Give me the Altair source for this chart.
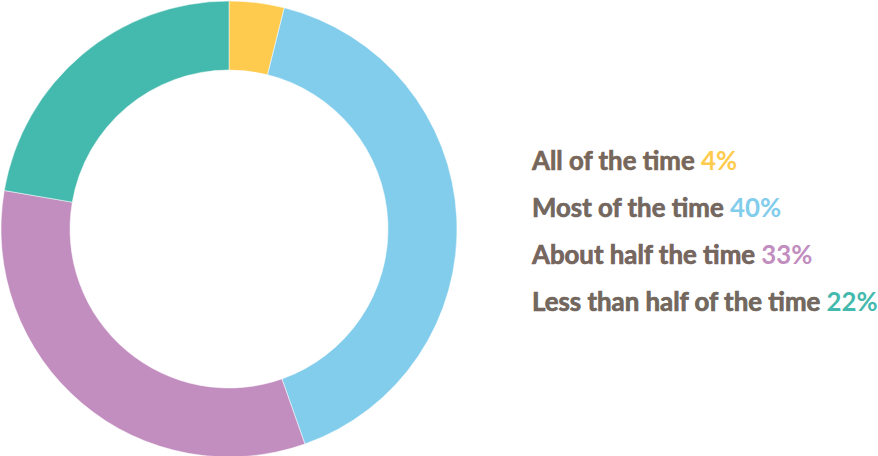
import altair as alt
import pandas as pd

categories = ["All of the time", "Most of the time", "About half the time", "Less than half of the time"]
shares = [3.9, 40.7, 33.1, 22.3]
pct_labels = ["4%", "40%", "33%", "22%"]
colors = ["#FFCB4F", "#82CDEC", "#C28DBF", "#44B9AE"]

df = pd.DataFrame({
    "category": categories,
    "share": shares,
    "pct": pct_labels,
    "idx": list(range(len(categories))),
})
df["full"] = df["category"] + " " + df["pct"]

color_scale = alt.Scale(domain=categories, range=colors)

base = alt.Chart(df)

arcs = base.mark_arc(radius=228, radius2=159, stroke="white", strokeWidth=0.5).encode(
    theta=alt.Theta("share:Q", stack=True),
    order=alt.Order("idx:Q"),
    color=alt.Color("category:N", scale=color_scale, legend=None),
    x=alt.value(229),
    y=alt.value(229),
)

ypos = alt.Y("category:N", sort=categories, axis=None,
             scale=alt.Scale(range=[170, 311], padding=0))

font = "Lato"
fsize = 25.8

full_text = base.mark_text(align="left", baseline="alphabetic", font=font, fontSize=fsize,
                           fontWeight="bold").encode(
    x=alt.value(532),
    y=ypos,
    text="full:N",
    color=alt.Color("category:N", scale=color_scale, legend=None),
)

label_text = base.mark_text(align="left", baseline="alphabetic", font=font, fontSize=fsize,
                            fontWeight="bold", color="#76675E", stroke="#76675E",
                            strokeWidth=0.6).encode(
    x=alt.value(532),
    y=ypos,
    text="category:N",
)

chart = alt.layer(arcs, full_text, label_text).properties(
    width=878, height=456, padding=0, autosize=alt.AutoSizeParams(type="none")
).configure_view(stroke=None)

chart.save("out.html", embed_options={"renderer": "svg", "actions": False})
